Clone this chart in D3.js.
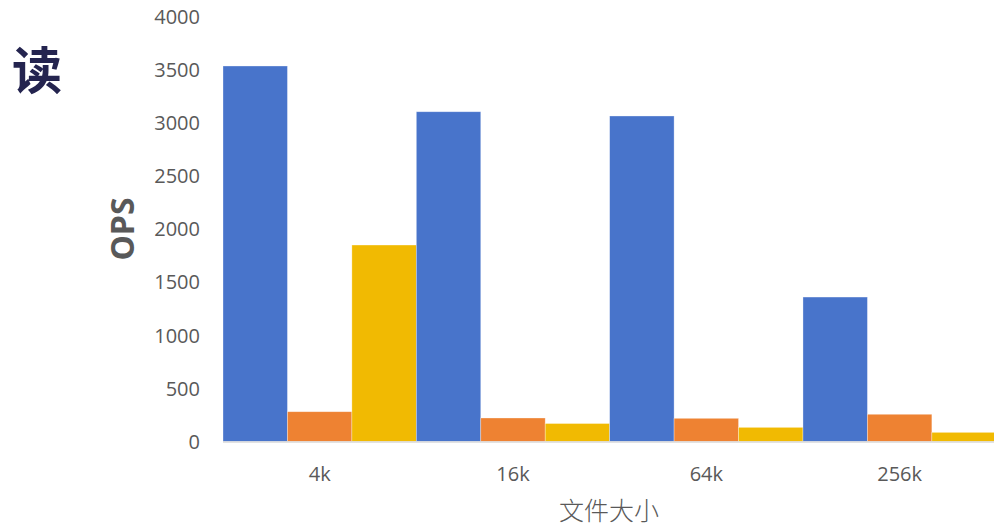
<!DOCTYPE html>
<html>
<head>
<meta charset="utf-8">
<script src="https://cdn.jsdelivr.net/npm/d3@7"></script>
<style>
  html, body { margin: 0; padding: 0; background: #fff; }
  svg { display: block; }
</style>
</head>
<body>
<svg id="chart" width="994" height="529"></svg>
<script>
const categories = ["4k", "16k", "64k", "256k"];
const seriesNames = ["系列1", "系列2", "系列3"];
const series1 = [3530, 3100, 3060, 1358];
const series2 = [280, 221, 218, 256];
const series3 = [1847, 169, 133, 86];
const yTicks = [0, 500, 1000, 1500, 2000, 2500, 3000, 3500, 4000];
const colors = ["#4874CB", "#EE8232", "#F1BA02"];
const chartTitle = "读";
const yTitle = "OPS";
const xTitle = "文件大小";

(function () {
const svg = d3.select("#chart");
const pLeft = 223, pRight = 996.3, pTop = 16, pBottom = 441.5;
const labelFont = "'Open Sans', Lato, sans-serif";

const x0 = d3.scaleBand().domain(categories).range([pLeft, pRight]).paddingInner(0).paddingOuter(0);
const x1 = d3.scaleBand().domain(seriesNames).range([0, x0.bandwidth()]).padding(0);
const y = d3.scaleLinear().domain([0, 4000]).range([pBottom, pTop]);

const allSeries = [series1, series2, series3];
const data = categories.map((c, i) => ({cat: c, vals: seriesNames.map((s, j) => ({s, v: allSeries[j][i], c: colors[j]}))}));

const g = svg.append("g");
g.selectAll("g.grp").data(data).join("g").attr("class", "grp")
  .attr("transform", d => `translate(${x0(d.cat)},0)`)
  .selectAll("rect").data(d => d.vals).join("rect")
  .attr("x", d => x1(d.s))
  .attr("width", x1.bandwidth())
  .attr("y", d => y(d.v))
  .attr("height", d => pBottom - y(d.v))
  .attr("fill", d => d.c)
  .attr("stroke", "rgba(255,255,255,0.45)")
  .attr("stroke-width", 0.7);

// x axis
const xAxis = d3.axisBottom(x0).tickSize(0).tickPadding(0);
const xg = svg.append("g").attr("transform", `translate(0,${pBottom})`).call(xAxis);
xg.select(".domain").attr("stroke", "#d9d9d9").attr("stroke-width", 1.6).attr("d", `M${pLeft},0.5H${pRight}`);
xg.selectAll("text").attr("font-family", labelFont).attr("font-size", 20)
  .attr("fill", "#595959").attr("dy", "0").attr("y", 39);

// y axis
const yAxis = d3.axisLeft(y).tickValues(yTicks).tickFormat(d3.format("d")).tickSize(0).tickPadding(0);
const yg = svg.append("g").attr("transform", `translate(200,0)`).call(yAxis);
yg.select(".domain").remove();
yg.selectAll("text").attr("font-family", labelFont).attr("font-size", 20)
  .attr("fill", "#595959").attr("dy", "0.35em");

// titles
svg.append("text").attr("x", 37).attr("y", 71).attr("text-anchor", "middle").attr("dy", "0.36em")
  .attr("font-family", "'Noto Sans CJK SC', sans-serif").attr("font-weight", 700).attr("font-size", 50)
  .attr("fill", "#24244f").text(chartTitle);

svg.append("text").attr("transform", "translate(122,229) rotate(-90)").attr("text-anchor", "middle").attr("dy", "0.36em")
  .attr("font-family", labelFont).attr("font-weight", 700).attr("font-size", 32)
  .attr("fill", "#595959").text(yTitle);

svg.append("text").attr("x", 609).attr("y", 511).attr("text-anchor", "middle").attr("dy", "0.36em")
  .attr("font-family", "'Noto Sans CJK SC', sans-serif").attr("font-weight", 300).attr("font-size", 25)
  .attr("fill", "#595959").text(xTitle);
})();
</script>
</body>
</html>
